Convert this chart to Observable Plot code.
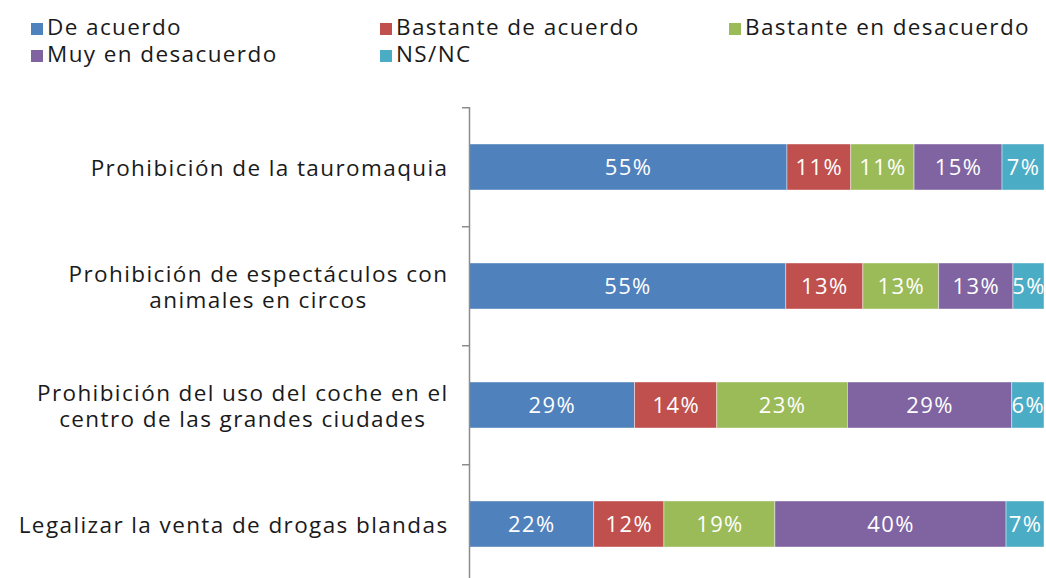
<!DOCTYPE html>
<html><head><meta charset="utf-8">
<script src="https://cdn.jsdelivr.net/npm/d3@7"></script>
<script src="https://cdn.jsdelivr.net/npm/@observablehq/plot@0.6"></script>
<style>
html,body{margin:0;padding:0;background:#fff;overflow:hidden;font-family:"Open Sans",sans-serif;}
#legend{height:80px;box-sizing:border-box;padding:13px 0 0 31px;display:grid;grid-template-columns:349px 349px 349px;grid-auto-rows:27px;font-size:22.5px;letter-spacing:1.4px;color:#1a1a1a;}
.item{display:flex;align-items:baseline;white-space:nowrap;line-height:27px;}
.sw{display:inline-block;width:12px;height:12px;margin-right:4px;margin-bottom:3px;flex:none;}
#chart svg{display:block;}
#chart svg text{letter-spacing:1.4px;}
</style></head><body>
<div id="legend"></div><div id="chart"></div>
<script>
const categories = [
  "Prohibición de la tauromaquia",
  "Prohibición de espectáculos con animales en circos",
  "Prohibición del uso del coche en el centro de las grandes ciudades",
  "Legalizar la venta de drogas blandas"
];
const tickLabels = [
  "Prohibición de la tauromaquia",
  "Prohibición de espectáculos con\nanimales en circos",
  "Prohibición del uso del coche en el\ncentro de las grandes ciudades",
  "Legalizar la venta de drogas blandas"
];
const responses = ["De acuerdo", "Bastante de acuerdo", "Bastante en desacuerdo", "Muy en desacuerdo", "NS/NC"];
const colors = ["#4F81BD", "#C0504D", "#9BBB59", "#8064A2", "#4BACC6"];
const deAcuerdo          = [55.3, 55.1, 28.8, 21.7];
const bastanteAcuerdo    = [11.1, 13.4, 14.3, 12.2];
const bastanteDesacuerdo = [11.0, 13.2, 22.7, 19.3];
const muyDesacuerdo      = [15.3, 12.9, 28.6, 40.2];
const nsnc               = [7.3, 5.4, 5.6, 6.6];

const series = [deAcuerdo, bastanteAcuerdo, bastanteDesacuerdo, muyDesacuerdo, nsnc];
const data = [];
categories.forEach((c, i) => series.forEach((s, j) => data.push({cat: c, resp: responses[j], value: s[i]})));

// legend
const legend = document.getElementById("legend");
responses.forEach((r, j) => {
  const it = document.createElement("div");
  it.className = "item";
  it.innerHTML = `<span class="sw" style="background:${colors[j]}"></span><span>${r}</span>`;
  legend.append(it);
});

const H = 505, mt = 27, mb = 0;
const step = (H - mt - mb) / categories.length;
const plot = Plot.plot({
  width: 1046, height: H,
  marginLeft: 469, marginRight: 2, marginTop: mt, marginBottom: mb,
  x: {domain: [0, 1], axis: null},
  y: {domain: categories, paddingInner: 0.61, paddingOuter: 0.305, axis: null},
  color: {domain: responses, range: colors},
  style: {fontFamily: "Open Sans", fontSize: "22.5px", background: "white", color: "#1a1a1a"},
  marks: [
    Plot.barX(data, Plot.stackX({x: "value", y: "cat", fill: "resp", offset: "normalize", order: responses, stroke: "white", strokeWidth: 0.6, strokeOpacity: 0.7})),
    Plot.text(data, Plot.stackX({x: "value", y: "cat", z: "resp", offset: "normalize", order: responses, text: d => Math.round(d.value) + "%", fill: "white", fontSize: 22})),
    Plot.ruleX([0], {stroke: "#8c8c8c", strokeWidth: 1.5}),
    Plot.ruleY(categories, {y: d => d, x1: 0, x2: 0, insetLeft: -7, dy: -step / 2, stroke: "#8c8c8c", strokeWidth: 1.5}),
    Plot.text(categories, {y: d => d, text: (d, i) => tickLabels[i], frameAnchor: "left", textAnchor: "end", dx: -21, lineHeight: 1.16, fill: "#1a1a1a"})
  ]
});
document.getElementById("chart").append(plot);
plot.querySelectorAll("text").forEach(t => {
  const tsp = t.querySelectorAll("tspan");
  if (tsp.length > 1) {
    const w = t.getBBox().width;
    t.setAttribute("text-anchor", "middle");
    tsp.forEach(s => s.setAttribute("x", -w / 2));
  }
});
</script>
</body></html>
